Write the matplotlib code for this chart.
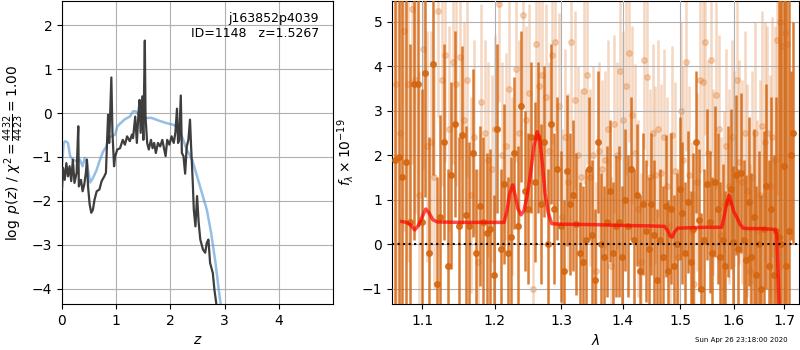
import numpy as np
import matplotlib
matplotlib.use("Agg")
import matplotlib.pyplot as plt
from matplotlib.ticker import NullLocator, FixedLocator, FixedFormatter

# p(z) panel
z_pz = [0.0, 0.02, 0.05, 0.08, 0.11, 0.14, 0.17, 0.20, 0.23, 0.27, 0.30, 0.31, 0.35, 0.38,
        0.41, 0.44, 0.46, 0.48, 0.51, 0.54, 0.57, 0.60, 0.64, 0.69, 0.73, 0.78, 0.81, 0.83,
        0.85, 0.87, 0.91, 0.93, 0.96, 0.98, 1.02, 1.07, 1.12, 1.16, 1.20, 1.25, 1.29, 1.31,
        1.35, 1.38, 1.41, 1.43, 1.45, 1.48, 1.50, 1.527, 1.54, 1.57, 1.60, 1.64, 1.67, 1.70,
        1.73, 1.77, 1.81, 1.85, 1.88, 1.91, 1.94, 1.98, 2.02, 2.06, 2.09, 2.12, 2.14, 2.16,
        2.19, 2.21, 2.24, 2.27, 2.30, 2.33, 2.36, 2.38, 2.41, 2.43, 2.46, 2.49, 2.52, 2.55,
        2.60, 2.64, 2.67, 2.70, 2.73, 2.78, 2.81, 2.85, 2.88]
logpz = [-1.74, -1.25, -1.52, -1.14, -1.44, -1.21, -1.55, -1.06, -1.59, -1.36, -0.30, -1.67,
         -1.52, -1.78, -1.63, -1.36, -1.06, -1.67, -2.08, -2.27, -2.20, -1.97, -1.78, -1.74,
         -1.55, -1.44, -1.36, -0.68, -0.04, -0.68, 0.81, -0.45, -1.21, -0.98, -0.83, -0.80,
         -0.61, -0.72, -0.53, -0.64, -0.49, -0.57, -0.08, -0.68, 0.0, 0.30, -0.45, 0.38,
         -0.61, 1.65, -0.08, -0.68, -0.83, -0.61, -0.80, -0.68, -0.91, -0.68, -0.76, -0.61,
         -0.80, -0.98, -0.61, -0.72, -0.53, -0.68, -0.45, 0.10, -0.68, -0.61, 0.40, -0.91,
         -0.98, -1.38, -0.76, -0.61, -0.15, -0.76, -1.55, -2.20, -2.58, -1.89, -2.50, -2.88,
         -3.11, -3.18, -2.95, -2.88, -3.41, -3.64, -4.02, -4.39, -4.60]

z_prior = [0.0, 0.03, 0.06, 0.11, 0.15, 0.20, 0.28, 0.33, 0.38, 0.42, 0.46, 0.50, 0.52,
           0.57, 0.64, 0.70, 0.76, 0.82, 0.85, 0.91, 0.98, 1.02, 1.08, 1.16, 1.25, 1.31,
           1.36, 1.44, 1.53, 1.65, 1.78, 1.93, 2.06, 2.15, 2.21, 2.30, 2.40, 2.49, 2.58,
           2.67, 2.75, 2.83, 2.89, 2.93, 2.96]
prior = [-1.21, -0.68, -0.64, -0.68, -0.98, -1.06, -1.10, -1.06, -1.21, -1.02, -1.14,
         -1.44, -1.58, -1.48, -1.29, -1.06, -0.87, -0.76, -0.57, -0.53, -0.49, -0.30,
         -0.23, -0.14, -0.08, 0.04, 0.04, -0.08, -0.11, -0.11, -0.17, -0.23, -0.27, -0.34,
         -0.53, -0.83, -1.06, -1.44, -1.82, -2.20, -2.73, -3.41, -4.02, -4.39, -4.60]

# spectrum panel
dark_start, dark_step = 1.064, 0.005
dark_flux = [1.9, 1.95, 1.5, 1.85, 0.5, 3.6, 3.6, 0.5, 3.85, -0.2,
             4.05, -0.9, 0.6, 2.3, -0.5, 1.55, 2.7, 0.4, 2.45, 0.65,
             0.4, 2.05, -0.2, 0.85, 0.5, 0.25, 0.35, -0.7, 2.6, -0.1,
             1.35, -0.2, 0.15, 2.05, 0.4, 3.1, 1.2, 0.8, 2.4, 1.4,
             2.4, 0.9, 2.3, 0.0, 2.7, 0.8, 1.7, 0.4, -0.6, 1.65,
             0.9, 1.1, 0.45, -0.2, -0.4, 0.1, 1.7, 0.2, -0.8, 2.3,
             0.0, -0.3, 0.5, 1.2, -0.2, 0.4, 0.5, -0.3, 1.0, 0.4,
             1.7, 0.1, 1.1, -0.6, 0.9, 0.3, -0.1, 0.9, 0.2, -0.8,
             0.1, -0.3, 0.85, -0.6, 0.8, -0.5, 0.0, 1.25, 0.7, -0.2,
             0.95, -0.4, 0.35, 2.3, 0.55, -1.0, 0.1, 1.35, 0.5, -0.2,
             1.4, 0.8, -0.3, 0.1, -0.5, 0.95, 1.25, 0.05, 1.55, -0.1,
             1.6, 0.1, -0.35, 0.95, -0.3, 0.6, -0.7, 0.0, -1.0, 0.35,
             1.3, -0.5, 0.8, -0.7, 0.3, 0.15, 0.0, 1.75, -0.5, 0.3,
             2.0, 2.5]
dark_err = [6.0, 5.5, 5.0, 4.5, 4.0, 3.5, 3.2, 3.0, 2.8, 2.6,
            2.5, 2.4, 2.3, 2.2, 2.2, 2.1, 2.1, 2.0, 2.0, 2.0,
            1.9, 1.9, 1.9, 1.8, 1.9, 1.8, 1.8, 1.8, 1.9, 1.8,
            1.8, 1.7, 1.8, 1.7, 1.8, 1.7, 1.8, 1.7, 1.7, 1.8,
            1.7, 1.8, 1.7, 1.7, 1.8, 1.7, 1.6, 1.7, 1.6, 1.7,
            1.6, 1.7, 1.6, 1.6, 1.7, 1.6, 1.6, 1.7, 1.6, 1.6,
            1.6, 1.6, 1.7, 1.6, 1.6, 1.6, 1.7, 1.6, 1.6, 1.6,
            1.6, 1.6, 1.6, 1.7, 1.6, 1.6, 1.6, 1.6, 1.7, 1.6,
            1.6, 1.6, 1.6, 1.6, 1.7, 1.6, 1.6, 1.6, 1.6, 1.6,
            1.6, 1.6, 1.7, 1.6, 1.6, 1.7, 1.6, 1.7, 1.6, 1.7,
            1.7, 1.7, 1.7, 1.7, 1.7, 1.7, 1.8, 1.7, 1.8, 1.8,
            1.8, 1.8, 1.9, 1.9, 1.9, 2.0, 2.0, 2.1, 2.1, 2.2,
            2.3, 2.4, 2.5, 2.7, 3.0, 6.0, 7.0, 8.0, 8.0, 8.0,
            1.9, 2.5]

light_start, light_step = 1.066, 0.005
light_flux = [3.6, 2.5, 4.8, 3.6, 5.3, 3.7, 1.1, 4.4, 2.2, 2.3,
              1.5, 5.25, 3.7, 4.25, 2.6, 4.1, 3.6, 4.2, 2.8, 3.7,
              1.1, 2.4, -0.4, 3.2, 2.5, 1.9, 1.7, 2.6, 5.4, 2.0,
              2.2, 3.5, 1.3, 3.95, 2.5, 5.15, 2.8, 3.4, -1.0, 4.5,
              3.55, 3.8, 3.3, 2.1, 4.25, 4.55, 3.1, 0.6, 2.4, 1.4,
              4.55, 3.25, 2.0, 1.5, 3.45, 3.8, 1.5, 2.0, -0.6, 2.1,
              1.7, 1.9, 2.6, -0.5, 2.7, 2.0, 3.9, 2.8, 3.55, 4.3,
              2.9, 2.05, 0.8, -0.4, 4.15, 3.75, 1.5, 2.5, 1.55, 2.6,
              1.6, 2.4, 1.3, 0.4, 2.45, 1.65, -0.3, 3.0, 1.9, 4.1,
              1.55, 0.3, -0.9, 1.4, 3.7, 3.65, 4.55, 2.05, 4.15, 1.4,
              3.35, 2.6, 0.2, 0.9, 2.2, 1.3, 2.4, 1.7, 3.7, 1.85,
              1.4, 2.5, 1.2, -0.6, 1.5, 2.5, 0.3, 1.1, 2.65, 2.3,
              2.5, 1.3, 2.4, 1.9, 4.6, 5.0, 4.45, 4.75, 4.5]
light_err = [6.0, 5.0, 4.5, 4.0, 3.5, 3.0, 2.8, 2.7, 2.6, 2.5,
             2.5, 2.4, 2.4, 2.4, 2.3, 2.3, 2.3, 2.3, 2.2, 2.2,
             2.2, 2.2, 2.1, 2.2, 2.1, 2.2, 2.1, 2.1, 2.2, 2.1,
             2.1, 2.1, 2.0, 2.1, 2.1, 2.0, 2.1, 2.0, 2.0, 2.1,
             2.0, 2.0, 2.1, 2.0, 2.0, 2.0, 2.1, 2.0, 2.0, 2.0,
             2.0, 2.0, 2.0, 2.0, 2.1, 2.0, 2.0, 2.0, 2.0, 2.0,
             2.0, 2.0, 2.0, 2.0, 2.0, 2.1, 2.0, 2.0, 2.0, 2.0,
             2.0, 2.0, 2.0, 2.0, 2.0, 2.0, 2.0, 2.0, 2.0, 2.0,
             2.0, 2.0, 2.0, 2.0, 2.0, 2.0, 2.0, 2.0, 2.1, 2.0,
             2.0, 2.0, 2.1, 2.0, 2.1, 2.0, 2.1, 2.1, 2.1, 2.1,
             2.1, 2.1, 2.2, 2.1, 2.2, 2.2, 2.2, 2.2, 2.3, 2.3,
             2.3, 2.3, 2.4, 2.4, 2.4, 2.5, 2.5, 2.6, 2.6, 2.7,
             2.4, 2.5, 2.7, 3.0, 3.5, 4.0, 5.0, 6.0, 6.0]

model_wave = [1.073, 1.079, 1.084, 1.090, 1.095, 1.100, 1.1045, 1.109, 1.114, 1.12,
              1.15, 1.18, 1.2137, 1.218, 1.222, 1.2264, 1.230, 1.234, 1.2387, 1.243,
              1.248, 1.253, 1.258, 1.2632, 1.267, 1.271, 1.275, 1.280, 1.2853, 1.30,
              1.35, 1.40, 1.45, 1.472, 1.478, 1.482, 1.486, 1.490, 1.4958, 1.52,
              1.55, 1.577, 1.582, 1.587, 1.591, 1.596, 1.600, 1.606, 1.612, 1.618,
              1.63, 1.65, 1.67, 1.682, 1.685, 1.688, 1.691]
model_flux = [0.51, 0.49, 0.44, 0.32, 0.42, 0.62, 0.79, 0.70, 0.55, 0.50,
              0.49, 0.49, 0.49, 0.75, 1.15, 1.33, 1.10, 0.80, 0.66, 0.75,
              1.10, 1.60, 2.20, 2.53, 2.35, 1.80, 1.15, 0.70, 0.46, 0.45,
              0.44, 0.42, 0.41, 0.40, 0.30, 0.18, 0.16, 0.28, 0.36, 0.37,
              0.38, 0.38, 0.65, 0.95, 1.10, 0.90, 0.73, 0.60, 0.45, 0.36,
              0.35, 0.35, 0.34, 0.33, 0.2, -0.8, -2.0]

wave_ticks = [1.1, 1.2, 1.3, 1.4, 1.5, 1.6, 1.7]

dark_wave = dark_start + dark_step * np.arange(len(dark_flux))
light_wave = light_start + light_step * np.arange(len(light_flux))

fig = plt.figure(figsize=(8, 3.5), dpi=100)
ax1 = fig.add_axes([0.0775, 0.131, 0.339, 0.866])
ax2 = fig.add_axes([0.49, 0.131, 0.509, 0.866])

# left: p(z)
ax1.plot(z_prior, prior, color='#5b9bd5', alpha=0.65, lw=1.8, zorder=2)
ax1.plot(z_pz, logpz, color='0.2', alpha=0.95, lw=1.6, zorder=3)
ax1.set_xlim(0, 5.0)
ax1.set_ylim(-4.35, 2.55)
ax1.set_xticks([0, 1, 2, 3, 4])
ax1.set_yticks([-4, -3, -2, -1, 0, 1, 2])
ax1.grid(True)
ax1.set_xlabel('$z$')
ax1.set_ylabel(r'$\log\ p(z)$ / $\chi^2=\frac{4432}{4423}=1.00$')
ax1.text(0.948, 0.965, 'j163852p4039\nID=1148   z=1.5267', transform=ax1.transAxes,
         ha='right', va='top', fontsize=9)

# right: spectrum
ax2.errorbar(light_wave, light_flux, yerr=light_err, fmt='o', color='#e07a2c',
             alpha=0.3, ms=4, elinewidth=1.8, capsize=0, zorder=2)
ax2.errorbar(dark_wave, dark_flux, yerr=dark_err, fmt='o', color='#d4650f',
             alpha=0.85, ms=4, elinewidth=1.8, capsize=0, zorder=3)
ax2.plot(model_wave, model_flux, color='r', alpha=0.7, lw=2.5, zorder=4)
ax2.axhline(0, color='k', ls=':', lw=1.5, zorder=5)
ax2.set_xscale('log')
ax2.set_xlim(1.0606, 1.731)
ax2.set_ylim(-1.35, 5.47)
ax2.xaxis.set_major_locator(FixedLocator(wave_ticks))
ax2.xaxis.set_major_formatter(FixedFormatter([str(w) for w in wave_ticks]))
ax2.xaxis.set_minor_locator(NullLocator())
ax2.set_yticks([-1, 0, 1, 2, 3, 4, 5])
ax2.set_axisbelow(False)
ax2.grid(True)
ax2.set_xlabel(r'$\lambda$')
ax2.set_ylabel(r'$f_\lambda\times10^{-19}$')

fig.text(0.985, 0.028, 'Sun Apr 26 23:18:00 2020', ha='right', va='center', fontsize=5)

fig.savefig('out.png', dpi=100)
